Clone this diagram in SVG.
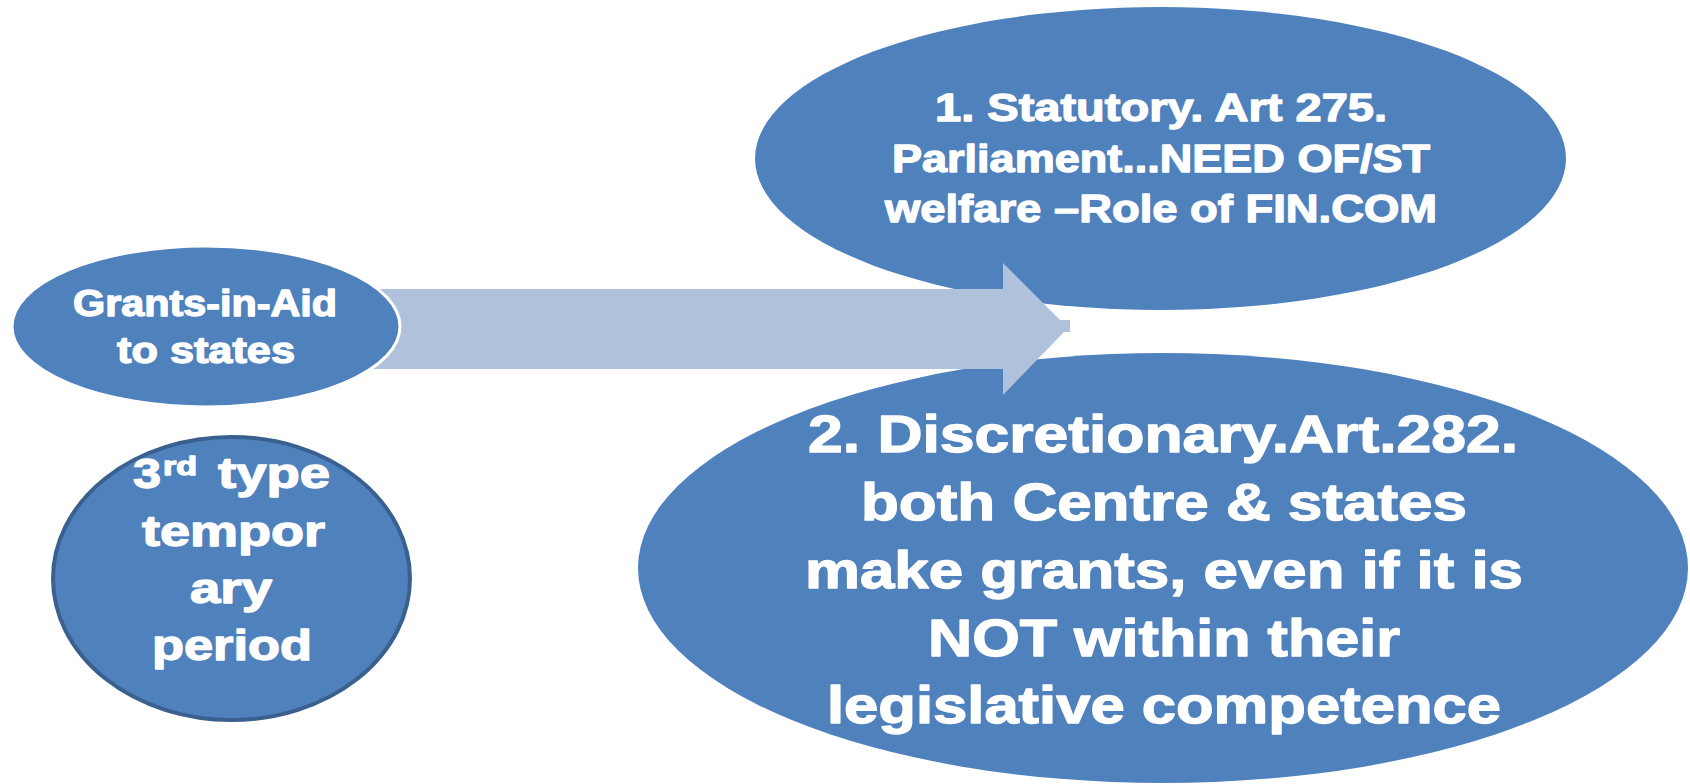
<svg xmlns="http://www.w3.org/2000/svg" width="1690" height="784" viewBox="0 0 1690 784">
  <style>
    .node { fill: #4F81BD; }
    .lbl { font-family: "Liberation Sans", Arial, sans-serif; font-weight: bold; fill: #FFFFFF; stroke: #FFFFFF; stroke-width: 1.3; stroke-linejoin: round; }
    .arrow { fill: #B0C1DB; }
  </style>
  <rect width="1690" height="784" fill="#FFFFFF"/>
  <g id="node-statutory">
    <ellipse class="node" cx="1160.5" cy="158.5" rx="405.5" ry="151.5"/>
    <text class="lbl" font-size="39" x="935" y="121" textLength="452" lengthAdjust="spacingAndGlyphs">1. Statutory. Art 275.</text>
    <text class="lbl" font-size="39" x="892" y="172" textLength="538" lengthAdjust="spacingAndGlyphs">Parliament...NEED OF/ST</text>
    <text class="lbl" font-size="39" x="885" y="222" textLength="552" lengthAdjust="spacingAndGlyphs">welfare –Role of FIN.COM</text>
  </g>
  <g id="node-discretionary">
    <ellipse class="node" cx="1163" cy="568" rx="525" ry="215"/>
    <text class="lbl" font-size="52" x="808" y="452" textLength="710" lengthAdjust="spacingAndGlyphs">2. Discretionary.Art.282.</text>
    <text class="lbl" font-size="52" x="861" y="520" textLength="606" lengthAdjust="spacingAndGlyphs">both Centre &amp; states</text>
    <text class="lbl" font-size="52" x="805" y="588" textLength="718" lengthAdjust="spacingAndGlyphs">make grants, even if it is</text>
    <text class="lbl" font-size="52" x="928" y="656" textLength="472" lengthAdjust="spacingAndGlyphs">NOT within their</text>
    <text class="lbl" font-size="52" x="827" y="723" textLength="674" lengthAdjust="spacingAndGlyphs">legislative competence</text>
  </g>
  <g id="connectors">
    <polygon class="arrow" points="350,289 1003,289 1003,263 1060,320 1070,320 1070,332 1064,332 1003,395 1003,369 350,369"/>
  </g>
  <g id="node-grants">
    <ellipse class="node" cx="206" cy="326.5" rx="194" ry="80.5" stroke="#FFFFFF" stroke-width="3"/>
    <text class="lbl" font-size="36" x="73" y="316" textLength="264" lengthAdjust="spacingAndGlyphs">Grants-in-Aid</text>
    <text class="lbl" font-size="36" x="117" y="363" textLength="178" lengthAdjust="spacingAndGlyphs">to states</text>
  </g>
  <g id="node-third">
    <ellipse class="node" cx="231.5" cy="578.5" rx="178.5" ry="141.5" stroke="#3A6090" stroke-width="4"/>
    <text class="lbl" font-size="42" x="133" y="488" textLength="28" lengthAdjust="spacingAndGlyphs">3</text>
    <text class="lbl" font-size="26" x="163" y="475" textLength="34" lengthAdjust="spacingAndGlyphs">rd</text>
    <text class="lbl" font-size="42" x="218" y="488" textLength="112" lengthAdjust="spacingAndGlyphs">type</text>
    <text class="lbl" font-size="42" x="142" y="546" textLength="183" lengthAdjust="spacingAndGlyphs">tempor</text>
    <text class="lbl" font-size="42" x="190" y="603" textLength="82" lengthAdjust="spacingAndGlyphs">ary</text>
    <text class="lbl" font-size="42" x="152" y="660" textLength="160" lengthAdjust="spacingAndGlyphs">period</text>
  </g>
</svg>
